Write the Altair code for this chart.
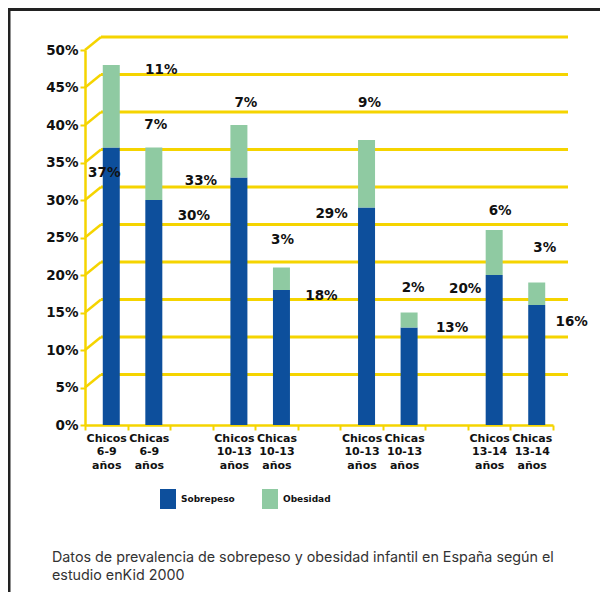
import json
import altair as alt
import pandas as pd

# ---- data ----
categories = ["Chicos 6-9 años", "Chicas 6-9 años", "Chicos 10-13 años", "Chicas 10-13 años",
              "Chicos 10-13 años", "Chicas 10-13 años", "Chicos 13-14 años", "Chicas 13-14 años"]
sobrepeso = [37, 30, 33, 18, 29, 13, 20, 16]
obesidad = [11, 7, 7, 3, 9, 2, 6, 3]
series = ["Sobrepeso", "Obesidad"]
colors = ["#0d4f9c", "#8fcaa2"]
y_ticks = [0, 5, 10, 15, 20, 25, 30, 35, 40, 45, 50]
grid_values = [5, 10, 15, 20, 25, 30, 35, 40, 45, 50]

# axis slot of each category (an empty slot separates the age groups)
slots = [0, 1, 3, 4, 6, 7, 9, 10]
n_slots = 11

# where the value labels sit (label centre in % units, horizontal shift in px)
sob_label_y = [33.6, 27.9, 32.6, 17.2, 28.1, 13.0, 18.2, 13.7]
sob_label_dx = [-2, 45, -33, 45, -30, 48, -24, 40]
obe_label_y = [47.3, 40.0, 43.0, 24.7, 43.0, 18.3, 28.5, 23.6]
obe_label_dx = [55, 7, 12, 6, 8, 9, 11, 13]

caption = ["Datos de prevalencia de sobrepeso y obesidad infantil en España según el",
           "estudio enKid 2000"]

# ---- layout ----
W, H = 468, 375
PAD_L, PAD_T = 77, 42
TOT_W, TOT_H = 592, 584
YELLOW = "#f5d400"
FONT_B = "DejaVu Sans"

# ---- tables ----
bar_rows = []
for s, c, sv, ov in zip(slots, categories, sobrepeso, obesidad):
    bar_rows.append({"slot": s, "cat": c, "serie": "Sobrepeso", "y0": 0, "y1": sv})
    bar_rows.append({"slot": s, "cat": c, "serie": "Obesidad", "y0": sv, "y1": sv + ov})
bars_df = pd.DataFrame(bar_rows)

lab_rows = []
for i, s in enumerate(slots):
    lab_rows.append({"slot": s, "txt": f"{sobrepeso[i]}%", "ly": sob_label_y[i], "dx": sob_label_dx[i]})
    lab_rows.append({"slot": s, "txt": f"{obesidad[i]}%", "ly": obe_label_y[i], "dx": obe_label_dx[i]})
labels_df = pd.DataFrame(lab_rows)

grid_df = pd.DataFrame({"v": grid_values})

slot_labels = []
for k in range(n_slots):
    if k in slots:
        slot_labels.append(categories[slots.index(k)].split(" "))
    else:
        slot_labels.append([""])
label_expr = json.dumps(slot_labels, ensure_ascii=False) + "[datum.value]"

y_scale = alt.Scale(domain=[0, 50], nice=False, zero=True)
y_axis = alt.Axis(values=y_ticks, labelExpr="datum.value + '%'", title=None, grid=False,
                  domainColor=YELLOW, domainWidth=2.5, tickColor=YELLOW, tickWidth=2,
                  tickSize=5, labelPadding=2, labelFont=FONT_B, labelFontWeight="bold",
                  labelFontSize=13.5, labelColor="#111")
x_scale = alt.Scale(domain=list(range(n_slots)), paddingInner=0, paddingOuter=0)
x_axis = alt.Axis(title=None, labelExpr=label_expr, labelAngle=0, tickBand="extent",
                  domainColor=YELLOW, domainWidth=2.5, tickColor=YELLOW, tickWidth=2,
                  tickSize=5, labelPadding=2, labelFont=FONT_B, labelFontWeight="bold",
                  labelFontSize=11, labelLineHeight=13.5, labelColor="#111",
                  labelBaseline="top", grid=False)

grid_h = alt.Chart(grid_df).mark_rule(color=YELLOW, strokeWidth=3, yOffset=-13).encode(
    x=alt.value(16), x2=alt.value(W + 15),
    y=alt.Y("v:Q", scale=y_scale, axis=y_axis))
grid_d = alt.Chart(grid_df).mark_rule(color=YELLOW, strokeWidth=2.5, y2Offset=-13).encode(
    x=alt.value(0), x2=alt.value(16),
    y=alt.Y("v:Q", scale=y_scale, axis=y_axis), y2="v:Q")

bars = alt.Chart(bars_df).mark_bar(size=17, xOffset=5).encode(
    x=alt.X("slot:O", scale=x_scale, axis=x_axis),
    y=alt.Y("y0:Q", scale=y_scale, axis=y_axis),
    y2="y1:Q",
    color=alt.Color("serie:N", scale=alt.Scale(domain=series, range=colors),
                    legend=alt.Legend(orient="none", legendX=73, legendY=439,
                                      direction="horizontal", title=None,
                                      symbolType="M-0.8,-1H0.8V1H-0.8Z", symbolSize=400,
                                      symbolStrokeWidth=0, symbolOpacity=1,
                                      labelFont=FONT_B, labelFontWeight="bold",
                                      labelFontSize=9, labelColor="#111",
                                      labelOffset=3, columnPadding=25)))

texts = alt.Chart(labels_df).mark_text(font=FONT_B, fontWeight="bold", fontSize=13.5,
                                       color="#111", baseline="middle", align="center",
                                       dx={"expr": "datum.dx"}).encode(
    x=alt.X("slot:O", scale=x_scale, axis=x_axis),
    y=alt.Y("ly:Q", scale=y_scale, axis=y_axis),
    text="txt:N")

cap = alt.Chart(pd.DataFrame({"c": [0]})).mark_text(
    font="Inter", fontSize=14.3, color="#333", align="left",
    baseline="alphabetic", lineHeight=17.5).encode(
    x=alt.value(-33), y=alt.value(512), text=alt.value(caption))

frame_l = alt.Chart(pd.DataFrame({"c": [0]})).mark_rule(color="#222", strokeWidth=3).encode(
    x=alt.value(-PAD_L + 1), y=alt.value(-PAD_T + 1), y2=alt.value(TOT_H - PAD_T))
frame_t = alt.Chart(pd.DataFrame({"c": [0]})).mark_rule(color="#222", strokeWidth=3).encode(
    x=alt.value(-PAD_L), x2=alt.value(TOT_W - PAD_L), y=alt.value(-PAD_T + 1.5))

chart = alt.layer(grid_d, grid_h, bars, texts, cap, frame_l, frame_t).properties(
    width=W, height=H,
    autosize=alt.AutoSizeParams(type="none"),
    padding={"left": PAD_L, "top": PAD_T, "right": TOT_W - PAD_L - W, "bottom": TOT_H - PAD_T - H},
    background="white",
).configure_view(stroke=None)

chart.save("out.html", embed_options={"renderer": "svg", "actions": False})
